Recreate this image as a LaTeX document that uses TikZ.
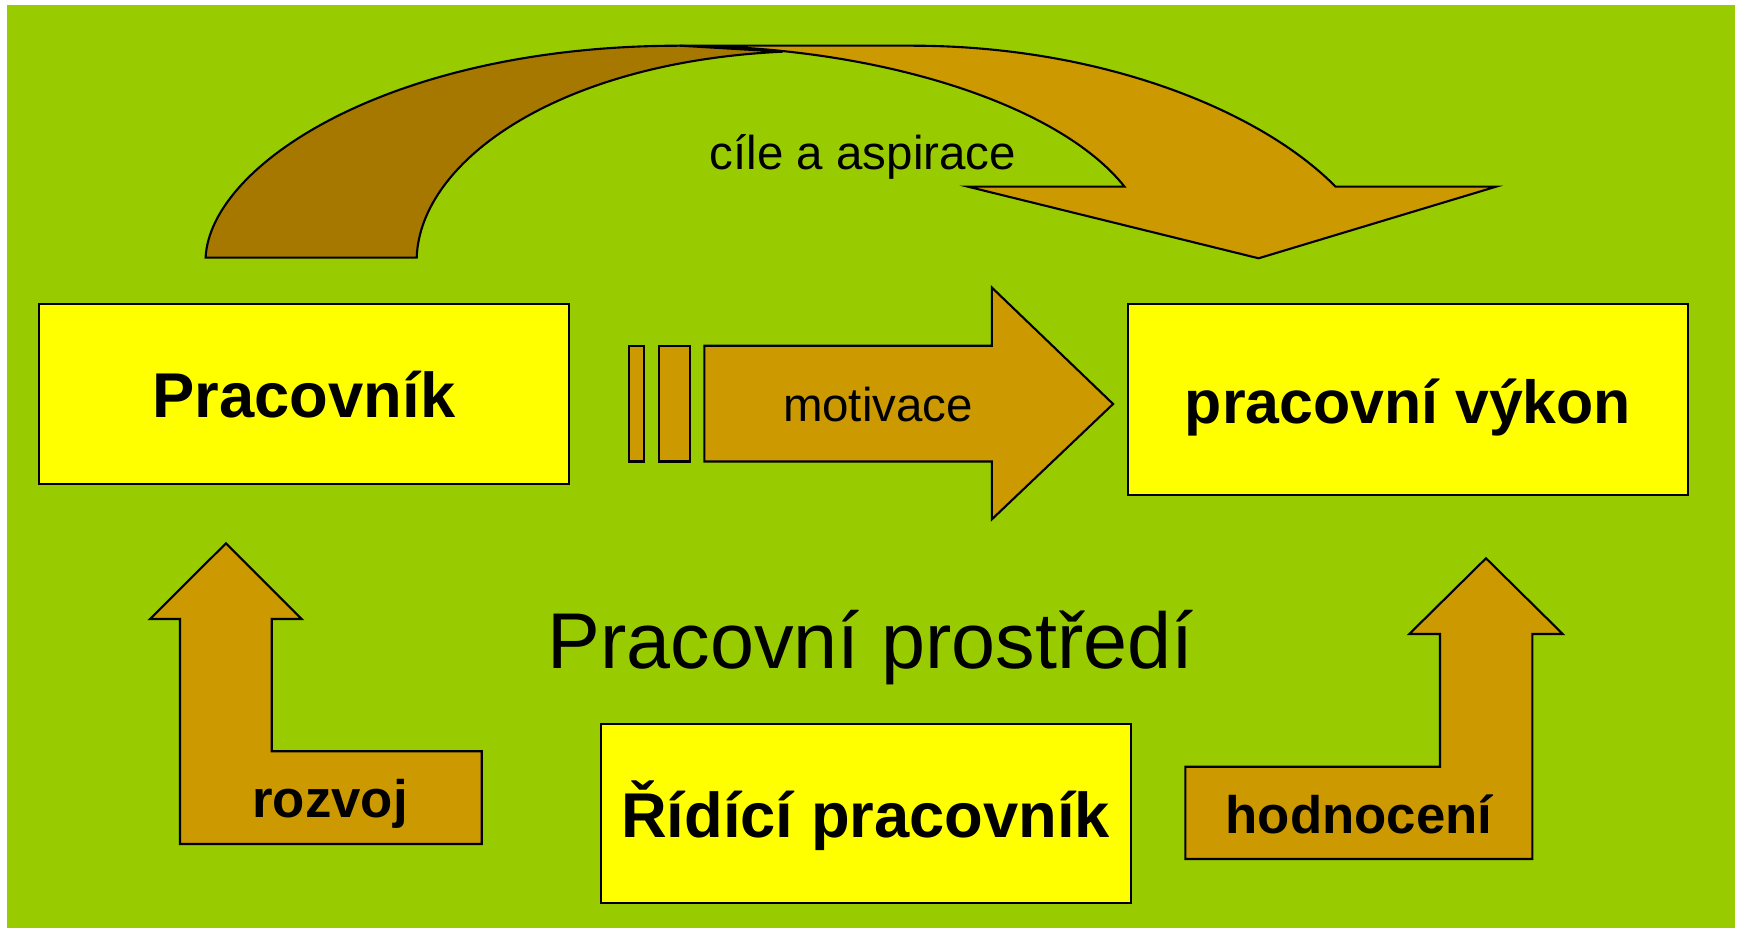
\documentclass[tikz,border=0pt]{standalone}
\usepackage{fontspec}
\setmainfont{Liberation Sans}
\usepackage{tikz}
\usepackage{xcolor}
\definecolor{pozadi}{HTML}{99CC00}
\definecolor{zluta}{HTML}{FFFF00}
\definecolor{hneda}{HTML}{CC9900}
\definecolor{tmavahneda}{HTML}{A67800}

\begin{document}
\begin{tikzpicture}[x=0.01cm, y=-0.01cm,
                box/.style={draw, fill=zluta, line width=0.6pt, inner sep=0pt, text height=13.4pt, text depth=0pt, font=\fontsize{18}{20}\selectfont\bfseries},
                sipka/.style={draw, fill=hneda, line width=0.6pt, line join=miter},
                popis/.style={anchor=base, inner sep=0pt, font=\fontsize{13.5}{16}\selectfont},
                tucny/.style={popis, font=\fontsize{15}{18}\selectfont\bfseries}]
                \useasboundingbox (0,0) rectangle (1739,928);
                \fill[pozadi] (7,5) rectangle (1735,928);
                \draw[sipka, fill=tmavahneda] (205.6,257.7) .. controls (210,165) and (390,45.7) .. (680,45.7) -- (782.6,51.7) .. controls (560,62) and (420,160) .. (416.7,257.7) -- cycle;
                \draw[sipka] (680,45.7) -- (912,45.7) .. controls (1100,45.7) and (1260,110) .. (1335.6,186.7) -- (1496,186.7) -- (1258.6,258.3) -- (968,186.7) -- (1124.5,186.7) .. controls (1060,105) and (880,46) .. (680,45.7) -- cycle;
                \node[popis](cile) at (863,169.5){cíle a aspirace};
                \node[box, minimum width=5.3cm, minimum height=1.8cm](pracovnik) at (304,394){Pracovník};
                \node[box, minimum width=5.6cm, minimum height=1.913cm, font=\fontsize{17.3}{20}\selectfont\bfseries](vykon) at (1408,399.6){pracovní výkon\hspace{0.18cm}};
                \node[box, minimum width=5.295cm, minimum height=1.793cm](ridici) at (865.7,813.7){Řídící pracovník};
                \draw[sipka] (628.6,345.8) rectangle (644.4,461.5);
                \draw[sipka] (658.9,345.8) rectangle (689.9,461.5);
                \draw[sipka] (704.3,345.8) -- (991.9,345.8) -- (991.9,287.6) -- (1113.1,404) -- (991.9,519.3) -- (991.9,461.5) -- (704.3,461.5) -- cycle;
                \node[popis](motivace) at (878,422){motivace};
                \node[popis, font=\fontsize{22.5}{26}\selectfont](prostredi) at (870.6,668.3){Pracovní prostředí};
                \draw[sipka] (226,543.3) -- (301.7,619) -- (271.7,619) -- (271.7,751.3) -- (481.7,751.3) -- (481.7,844) -- (180,844) -- (180,619) -- (150,619) -- cycle;
                \node[tucny](rozvoj) at (330,817.3){rozvoj};
                \draw[sipka] (1486,558.3) -- (1562.7,634) -- (1532.3,634) -- (1532.3,859) -- (1185.3,859) -- (1185.3,766.7) -- (1440,766.7) -- (1440,634) -- (1409.3,634) -- cycle;
                \node[tucny](hodnoceni) at (1359,833.3){hodnocení};
                \end{tikzpicture}
\end{document}
